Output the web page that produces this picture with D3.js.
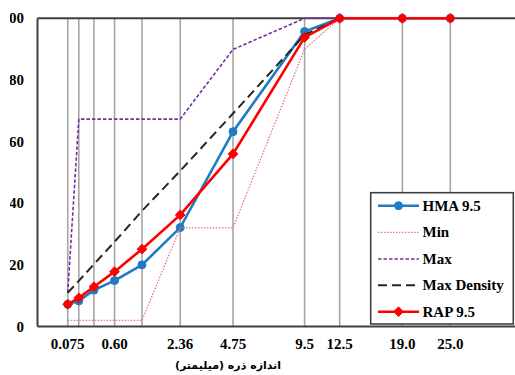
<!DOCTYPE html>
<html><head><meta charset="utf-8">
<script src="https://cdn.jsdelivr.net/npm/d3@7/dist/d3.min.js"></script>
<style>body{margin:0;background:#fff}svg{display:block}</style>
</head><body><svg id="c" width="515" height="375"></svg>
<script>
const sieves = [0.075, 0.15, 0.3, 0.6, 1.18, 2.36, 4.75, 9.5, 12.5, 19, 25];
const tickLabels = [[0.075,"0.075"],[0.6,"0.60"],[2.36,"2.36"],[4.75,"4.75"],[9.5,"9.5"],[12.5,"12.5"],[19,"19.0"],[25,"25.0"]];
const yTicks = [0, 20, 40, 60, 80, 100];
const hma = [7.2, 8.3, 11.8, 14.9, 20.0, 32.1, 63.2, 95.7, 100, 100, 100];
const minLine = [2, 2, 2, 2, 2, 32, 32, 90, 100, 100, 100];
const maxLine = [11, 67.3, 67.3, 67.3, 67.3, 67.3, 89.9, 100, 100, 100, 100];
const maxDensity = [10.9, 14.8, 20.2, 27.5, 37.5, 50.5, 69.1, 94.6, 100];
const rap = [7.2, 9.3, 12.9, 17.8, 25.1, 36.2, 56.0, 93.8, 100, 100, 100];
const xTitle = "اندازه ذره (میلیمتر)";

const serifText = sel => sel.style("font-family", '"Liberation Serif"').style("font-weight", "bold").style("font-size", "15px");

const svg = d3.select("#c");
const x = d3.scalePow().exponent(0.45).domain([0, 25]).range([37.5, 450.3]);
const y = d3.scaleLinear().domain([0, 100]).range([326.5, 18.3]);
const W = 515;

svg.append("g").selectAll("line").data(sieves).join("line")
  .attr("x1", d => x(d)).attr("x2", d => x(d))
  .attr("y1", y(0)).attr("y2", y(100))
  .attr("stroke", "#a6a6a6").attr("stroke-width", 1.6);

const fr = svg.append("g").attr("stroke", "#404040").attr("stroke-width", 2);
fr.append("line").attr("x1", x(0)).attr("x2", W + 5).attr("y1", y(100)).attr("y2", y(100));
fr.append("line").attr("x1", x(0)).attr("x2", W + 5).attr("y1", y(0)).attr("y2", y(0));
fr.append("line").attr("x1", x(0)).attr("x2", x(0)).attr("y1", y(0)).attr("y2", y(100));

const line = d3.line().x(d => x(d[0])).y(d => y(d[1]));
const pts = vals => vals.map((v, i) => [sieves[i], v]);
const diamondType = d3.symbolDiamond2 || d3.symbolDiamond;

const series = [
  {name: "HMA 9.5", vals: hma, color: "#1f7bc4", w: 2.6, dash: null, marker: "circle"},
  {name: "Min", vals: minLine, color: "#e07a80", w: 1.3, dash: "1.5,1.5", marker: null},
  {name: "Max", vals: maxLine, color: "#7030a0", w: 1.6, dash: "3.5,2", marker: null},
  {name: "Max Density", vals: maxDensity, color: "#262626", w: 2, dash: "9,5", marker: null},
  {name: "RAP 9.5", vals: rap, color: "#ff0000", w: 2.6, dash: null, marker: "diamond"}
];
const symFor = s => d3.symbol().type(s.marker === "circle" ? d3.symbolCircle : diamondType)
  .size(s.marker === "circle" ? 50 : 60);

series.forEach(s => {
  svg.append("path").datum(pts(s.vals)).attr("d", line)
    .attr("fill", "none").attr("stroke", s.color).attr("stroke-width", s.w)
    .attr("stroke-dasharray", s.dash);
  if (s.marker) {
    svg.append("g").selectAll("path").data(pts(s.vals)).join("path")
      .attr("transform", d => `translate(${x(d[0])},${y(d[1])})`)
      .attr("d", symFor(s)).attr("fill", s.color)
      .attr("stroke", s.color).attr("stroke-width", 1).attr("stroke-linejoin", "round");
  }
});

svg.append("g").selectAll("text").data(yTicks).join("text")
  .call(serifText)
  .attr("x", 24).attr("y", d => y(d) + 5)
  .attr("text-anchor", "end")
  .text(d => d);
svg.append("rect").attr("x", 0).attr("y", 0).attr("width", 10).attr("height", 340).attr("fill", "#fff");

svg.append("g").selectAll("text").data(tickLabels).join("text")
  .call(serifText)
  .attr("x", d => x(d[0])).attr("y", 348.5)
  .attr("text-anchor", "middle")
  .text(d => d[1]);

svg.append("text").attr("x", 228).attr("y", 369).attr("text-anchor", "middle")
  .attr("direction", "rtl")
  .style("font-family", '"DejaVu Sans"').style("font-weight", "bold").style("font-size", "11px")
  .text(xTitle);

const lg = svg.append("g");
lg.append("rect").attr("x", 370.7).attr("y", 192.7).attr("width", 142.6).attr("height", 131.3)
  .attr("fill", "#fff").attr("stroke", "#404040").attr("stroke-width", 1.6);
const ly = [205.7, 232.3, 259, 285.3, 311.7];
series.forEach((s, i) => {
  const g = lg.append("g");
  g.append("line").attr("x1", 378).attr("x2", 419).attr("y1", ly[i]).attr("y2", ly[i])
    .attr("stroke", s.color).attr("stroke-width", s.w).attr("stroke-dasharray", s.dash);
  if (s.marker) {
    g.append("path").attr("transform", `translate(398.5,${ly[i]})`).attr("d", symFor(s))
      .attr("fill", s.color).attr("stroke", s.color).attr("stroke-width", 1);
  }
  g.append("text").call(serifText).attr("x", 422.5).attr("y", ly[i] + 5).text(s.name);
});
</script></body></html>
